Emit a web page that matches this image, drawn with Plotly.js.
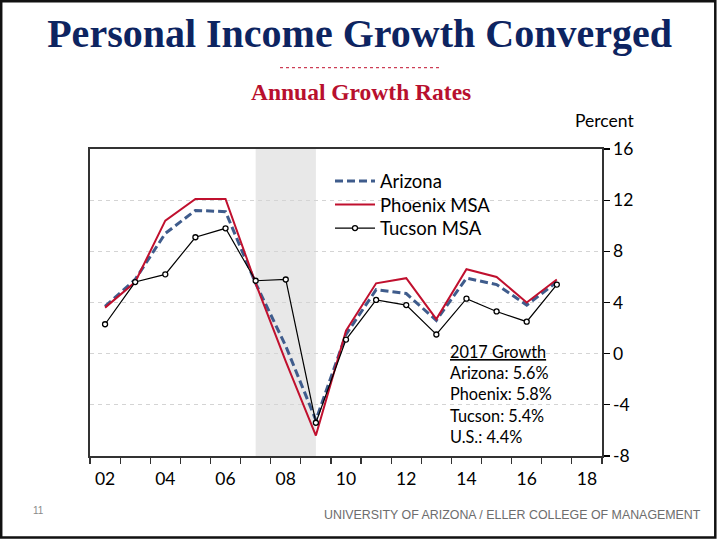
<!DOCTYPE html>
<html>
<head>
<meta charset="utf-8">
<script src="https://cdn.plot.ly/plotly-3.0.1.min.js"></script>
<style>
  html, body { margin: 0; padding: 0; background: #ffffff; }
  #chart { width: 717px; height: 539px; }
</style>
</head>
<body>
<div id="chart"></div>
<script>
// ---- data ----
var years = [2002, 2003, 2004, 2005, 2006, 2007, 2008, 2009, 2010, 2011, 2012, 2013, 2014, 2015, 2016, 2017];
var arizona = [3.7, 5.8, 9.4, 11.2, 11.1, 5.5, 0.6, -5.2, 1.5, 5.0, 4.7, 2.6, 5.9, 5.4, 3.8, 5.6];
var phoenix = [3.6, 5.6, 10.4, 12.1, 12.1, 5.5, -0.6, -6.4, 1.8, 5.5, 5.9, 2.7, 6.6, 6.0, 4.0, 5.8];
var tucson  = [2.3, 5.6, 6.2, 9.1, 9.8, 5.7, 5.8, -5.4, 1.1, 4.2, 3.8, 1.5, 4.3, 3.3, 2.5, 5.4];
var seriesNames = ['Arizona', 'Phoenix MSA', 'Tucson MSA'];
var xTickVals = [2002, 2004, 2006, 2008, 2010, 2012, 2014, 2016, 2018];
var xTickText = ['02', '04', '06', '08', '10', '12', '14', '16', '18'];
var yTickVals = [-8, -4, 0, 4, 8, 12, 16];
var yTickText = ['-8', '-4', '0', '4', '8', '12', '16'];
var recession = [2007, 2009];
var titleText = 'Personal Income Growth Converged';
var subtitleText = 'Annual Growth Rates';
var boxLines = ['<u>2017 Growth</u>', 'Arizona: 5.6%', 'Phoenix: 5.8%', 'Tucson: 5.4%', 'U.S.: 4.4%'];
var footerText = 'UNIVERSITY OF ARIZONA / ELLER COLLEGE OF MANAGEMENT';
var pageNumber = '11';

var sans = 'Lato, Carlito, "Open Sans", sans-serif';
var serif = '"Liberation Serif", "Times New Roman", serif';

var traces = [
  {
    x: years, y: arizona, name: seriesNames[0], type: 'scatter', mode: 'lines', legend: 'legend',
    line: { color: '#3f5c8c', width: 3, dash: '8px,4px' }
  },
  {
    x: years, y: phoenix, name: seriesNames[1], type: 'scatter', mode: 'lines', legend: 'legend2',
    line: { color: '#c0102e', width: 2 }
  },
  {
    x: years, y: tucson, name: seriesNames[2], type: 'scatter', mode: 'lines+markers', legend: 'legend3',
    line: { color: '#000000', width: 1.2 },
    marker: { symbol: 'circle', size: 5, color: '#ffffff', line: { color: '#000000', width: 1.3 } }
  }
];

function px2x(px) { return (px - 90) / 512; }
function px2y(py) { return (456 - py) / 307; }

function legendAt(rowCenterPx) {
  return {
    x: px2x(330), y: px2y(rowCenterPx - 18.5), xanchor: 'left', yanchor: 'top',
    bgcolor: 'rgba(0,0,0,0)', borderwidth: 0,
    font: { family: sans, size: 18.5, color: '#000000' },
    itemwidth: 40
  };
}

var layout = {
  width: 717, height: 539,
  margin: { l: 90, r: 115, t: 149, b: 83, pad: 0 },
  paper_bgcolor: '#ffffff', plot_bgcolor: '#ffffff',
  showlegend: true,
  title: {
    text: '<b>' + titleText + '</b>',
    font: { family: serif, size: 40, color: '#0d2461' },
    x: 0.5015, xref: 'container', xanchor: 'center',
    y: 0.938, yref: 'container', yanchor: 'middle'
  },
  xaxis: {
    range: [2001.5, 2018.5],
    tickmode: 'array', tickvals: xTickVals, ticktext: xTickText,
    ticks: '', showgrid: false, zeroline: false,
    showline: true, mirror: true, linecolor: '#333333', linewidth: 2,
    tickfont: { family: sans, size: 17.5, color: '#000000' },
    ticklabelstandoff: 6,
    minor: { tickmode: 'linear', tick0: 2001.5, dtick: 1, ticks: 'outside', ticklen: 6, tickcolor: '#333333', tickwidth: 1.2, showgrid: false },
    fixedrange: true
  },
  yaxis: {
    range: [-8, 16], side: 'right',
    tickmode: 'array', tickvals: yTickVals, ticktext: yTickText,
    ticks: 'outside', ticklen: 6, tickcolor: '#000000', tickwidth: 1.2,
    showline: true, mirror: true, linecolor: '#333333', linewidth: 1.6,
    showgrid: true, gridcolor: '#d4d4d4', griddash: '4px,4px', gridwidth: 1,
    zeroline: false,
    tickfont: { family: sans, size: 17.5, color: '#000000' },
    fixedrange: true
  },
  legend: legendAt(181),
  legend2: legendAt(204.5),
  legend3: legendAt(228),
  shapes: [
    {
      type: 'rect', xref: 'x', yref: 'paper',
      x0: recession[0], x1: recession[1], y0: 0, y1: 1,
      fillcolor: '#e8e8e8', line: { width: 0 }, layer: 'below'
    },
    {
      type: 'line', xref: 'paper', yref: 'paper',
      x0: px2x(280), x1: px2x(440), y0: px2y(67.7), y1: px2y(67.7),
      line: { color: '#c0102e', width: 1, dash: 'dot' }
    },
    {
      type: 'rect', xref: 'paper', yref: 'paper',
      x0: px2x(1.2), x1: px2x(715.3), y0: px2y(537.6), y1: px2y(1.2),
      line: { color: '#111111', width: 2.5 }, fillcolor: 'rgba(0,0,0,0)'
    }
  ],
  annotations: [
    {
      text: '<b>' + subtitleText + '</b>', xref: 'paper', yref: 'paper',
      x: px2x(361), y: px2y(92.5), xanchor: 'center', yanchor: 'middle', showarrow: false,
      font: { family: serif, size: 23.5, color: '#b8102e' }
    },
    {
      text: 'Percent', xref: 'paper', yref: 'paper',
      x: px2x(604), y: px2y(121), xanchor: 'center', yanchor: 'middle', showarrow: false,
      font: { family: sans, size: 17.5, color: '#000000' }
    },
    {
      text: boxLines.join('<br>'), xref: 'paper', yref: 'paper', align: 'left',
      x: px2x(448), y: px2y(340), xanchor: 'left', yanchor: 'top', showarrow: false,
      font: { family: sans, size: 16.3, color: '#000000' }
    },
    {
      text: pageNumber, xref: 'paper', yref: 'paper',
      x: px2x(38), y: px2y(510), xanchor: 'center', yanchor: 'middle', showarrow: false,
      font: { family: '"Liberation Sans", Arial, sans-serif', size: 10, color: '#8a8a8a' }
    },
    {
      text: footerText, xref: 'paper', yref: 'paper',
      x: px2x(703), y: px2y(515), xanchor: 'right', yanchor: 'middle', showarrow: false,
      font: { family: '"Liberation Sans", Arial, sans-serif', size: 12.4, color: '#6d6d6d' }
    }
  ]
};

Plotly.newPlot('chart', traces, layout, { displayModeBar: false, staticPlot: true });
</script>
</body>
</html>
